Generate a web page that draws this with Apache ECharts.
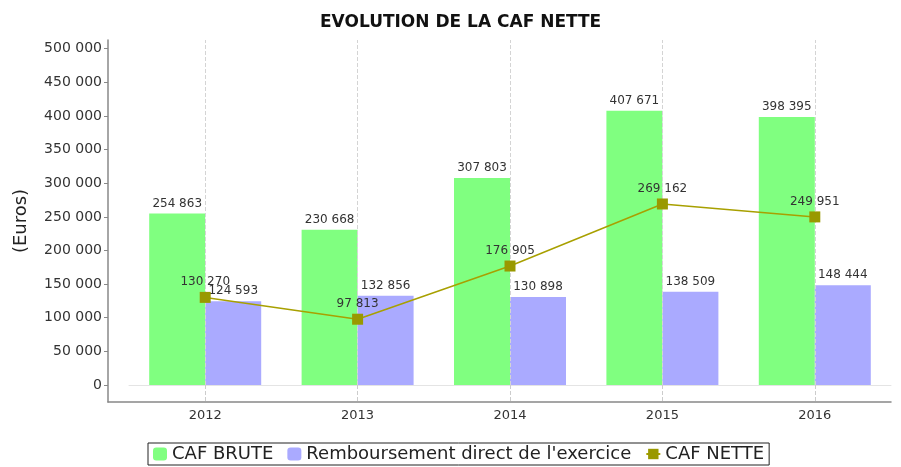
<!DOCTYPE html>
<html>
<head>
<meta charset="utf-8">
<script src="https://cdn.jsdelivr.net/npm/echarts@6/dist/echarts.min.js"></script>
<style>
  html, body { margin: 0; padding: 0; background: #fff; }
  #chart { width: 901px; height: 467px; }
</style>
</head>
<body>
<div id="chart"></div>
<script>
// donnees
var annees = ['2012', '2013', '2014', '2015', '2016'];
var cafBrute = [254863, 230668, 307803, 407671, 398395];
var remboursement = [124593, 132856, 130898, 138509, 148444];
var cafNette = [130270, 97813, 176905, 269162, 249951];

// separateur de milliers avec espace
function fmt(v) {
  return String(v).replace(/\B(?=(\d{3})+(?!\d))/g, ' ');
}

var chart = echarts.init(document.getElementById('chart'));

var labelStyle = {
  show: true,
  position: 'top',
  distance: 4,
  fontFamily: 'DejaVu Sans',
  fontSize: 12,
  color: '#333',
  formatter: function (p) { return fmt(p.value); }
};

var option = {
  animation: false,
  textStyle: { fontFamily: 'DejaVu Sans' },
  title: {
    text: 'EVOLUTION DE LA CAF NETTE',
    left: 315,
    top: 9,
    textStyle: { fontFamily: 'DejaVu Sans', fontSize: 17, fontWeight: 'bold', color: '#111' }
  },
  legend: {
    top: 443,
    left: 148,
    borderColor: '#222',
    borderWidth: 1,
    padding: [2, 5],
    itemGap: 14,
    itemWidth: 14,
    itemHeight: 13,
    textStyle: { fontFamily: 'DejaVu Sans', fontSize: 18, color: '#222' },
    data: ['CAF BRUTE', "Remboursement direct de l'exercice", 'CAF NETTE']
  },
  grid: [
    // cadre du graphique
    { left: 108, right: 10, top: 40, bottom: 65 },
    // zone des donnees
    { left: 129, right: 10, top: 40, bottom: 82 }
  ],
  xAxis: [
    {
      gridIndex: 0, type: 'value', min: 0, max: 1,
      axisLine: { show: true, lineStyle: { color: '#888', width: 1.5 } },
      axisTick: { show: false }, axisLabel: { show: false }, splitLine: { show: false }
    },
    {
      gridIndex: 1, type: 'category', data: annees,
      axisLine: { show: true, lineStyle: { color: '#e4e4e4', width: 1 } },
      axisTick: { show: true, alignWithLabel: true, length: 17, lineStyle: { color: '#ccc', type: 'dashed' } },
      axisLabel: { margin: 24, fontFamily: 'DejaVu Sans', fontSize: 13, color: '#333' },
      splitLine: { show: false }
    }
  ],
  yAxis: [
    {
      gridIndex: 0, type: 'value', min: 0, max: 1,
      name: '(Euros)', nameLocation: 'middle', nameGap: 78,
      nameTextStyle: { fontFamily: 'DejaVu Sans', fontSize: 18, color: '#222' },
      axisLine: { show: true, lineStyle: { color: '#888', width: 1.5 } },
      axisTick: { show: false }, axisLabel: { show: false }, splitLine: { show: false }
    },
    {
      gridIndex: 1, type: 'value', min: 0, max: 513000, interval: 50000,
      offset: 21,
      axisLine: { show: false },
      axisTick: { show: true, length: 4, lineStyle: { color: '#888' } },
      axisLabel: {
        showMaxLabel: false, margin: 6,
        fontFamily: 'DejaVu Sans', fontSize: 14, color: '#333',
        formatter: function (v) { return v % 50000 === 0 ? fmt(v) : ''; }
      },
      splitLine: { show: false }
    }
  ],
  series: [
    {
      name: 'CAF BRUTE', type: 'bar', xAxisIndex: 1, yAxisIndex: 1,
      barWidth: 56, barGap: '0%',
      itemStyle: { color: '#80ff80' },
      label: labelStyle,
      data: cafBrute
    },
    {
      name: "Remboursement direct de l'exercice", type: 'bar', xAxisIndex: 1, yAxisIndex: 1,
      barWidth: 56,
      itemStyle: { color: '#aaaaff' },
      label: labelStyle,
      data: remboursement
    },
    {
      name: 'CAF NETTE', type: 'line', xAxisIndex: 1, yAxisIndex: 1,
      symbol: 'rect', symbolSize: 11,
      itemStyle: { color: '#999900' },
      lineStyle: { color: '#a8a000', width: 1.5 },
      label: labelStyle,
      markLine: {
        silent: true, symbol: 'none', label: { show: false },
        lineStyle: { color: '#d4d4d4', type: 'dashed', width: 1 },
        data: annees.map(function (a) { return { xAxis: a }; })
      },
      z: 5,
      data: cafNette
    }
  ]
};

chart.setOption(option);
</script>
</body>
</html>
